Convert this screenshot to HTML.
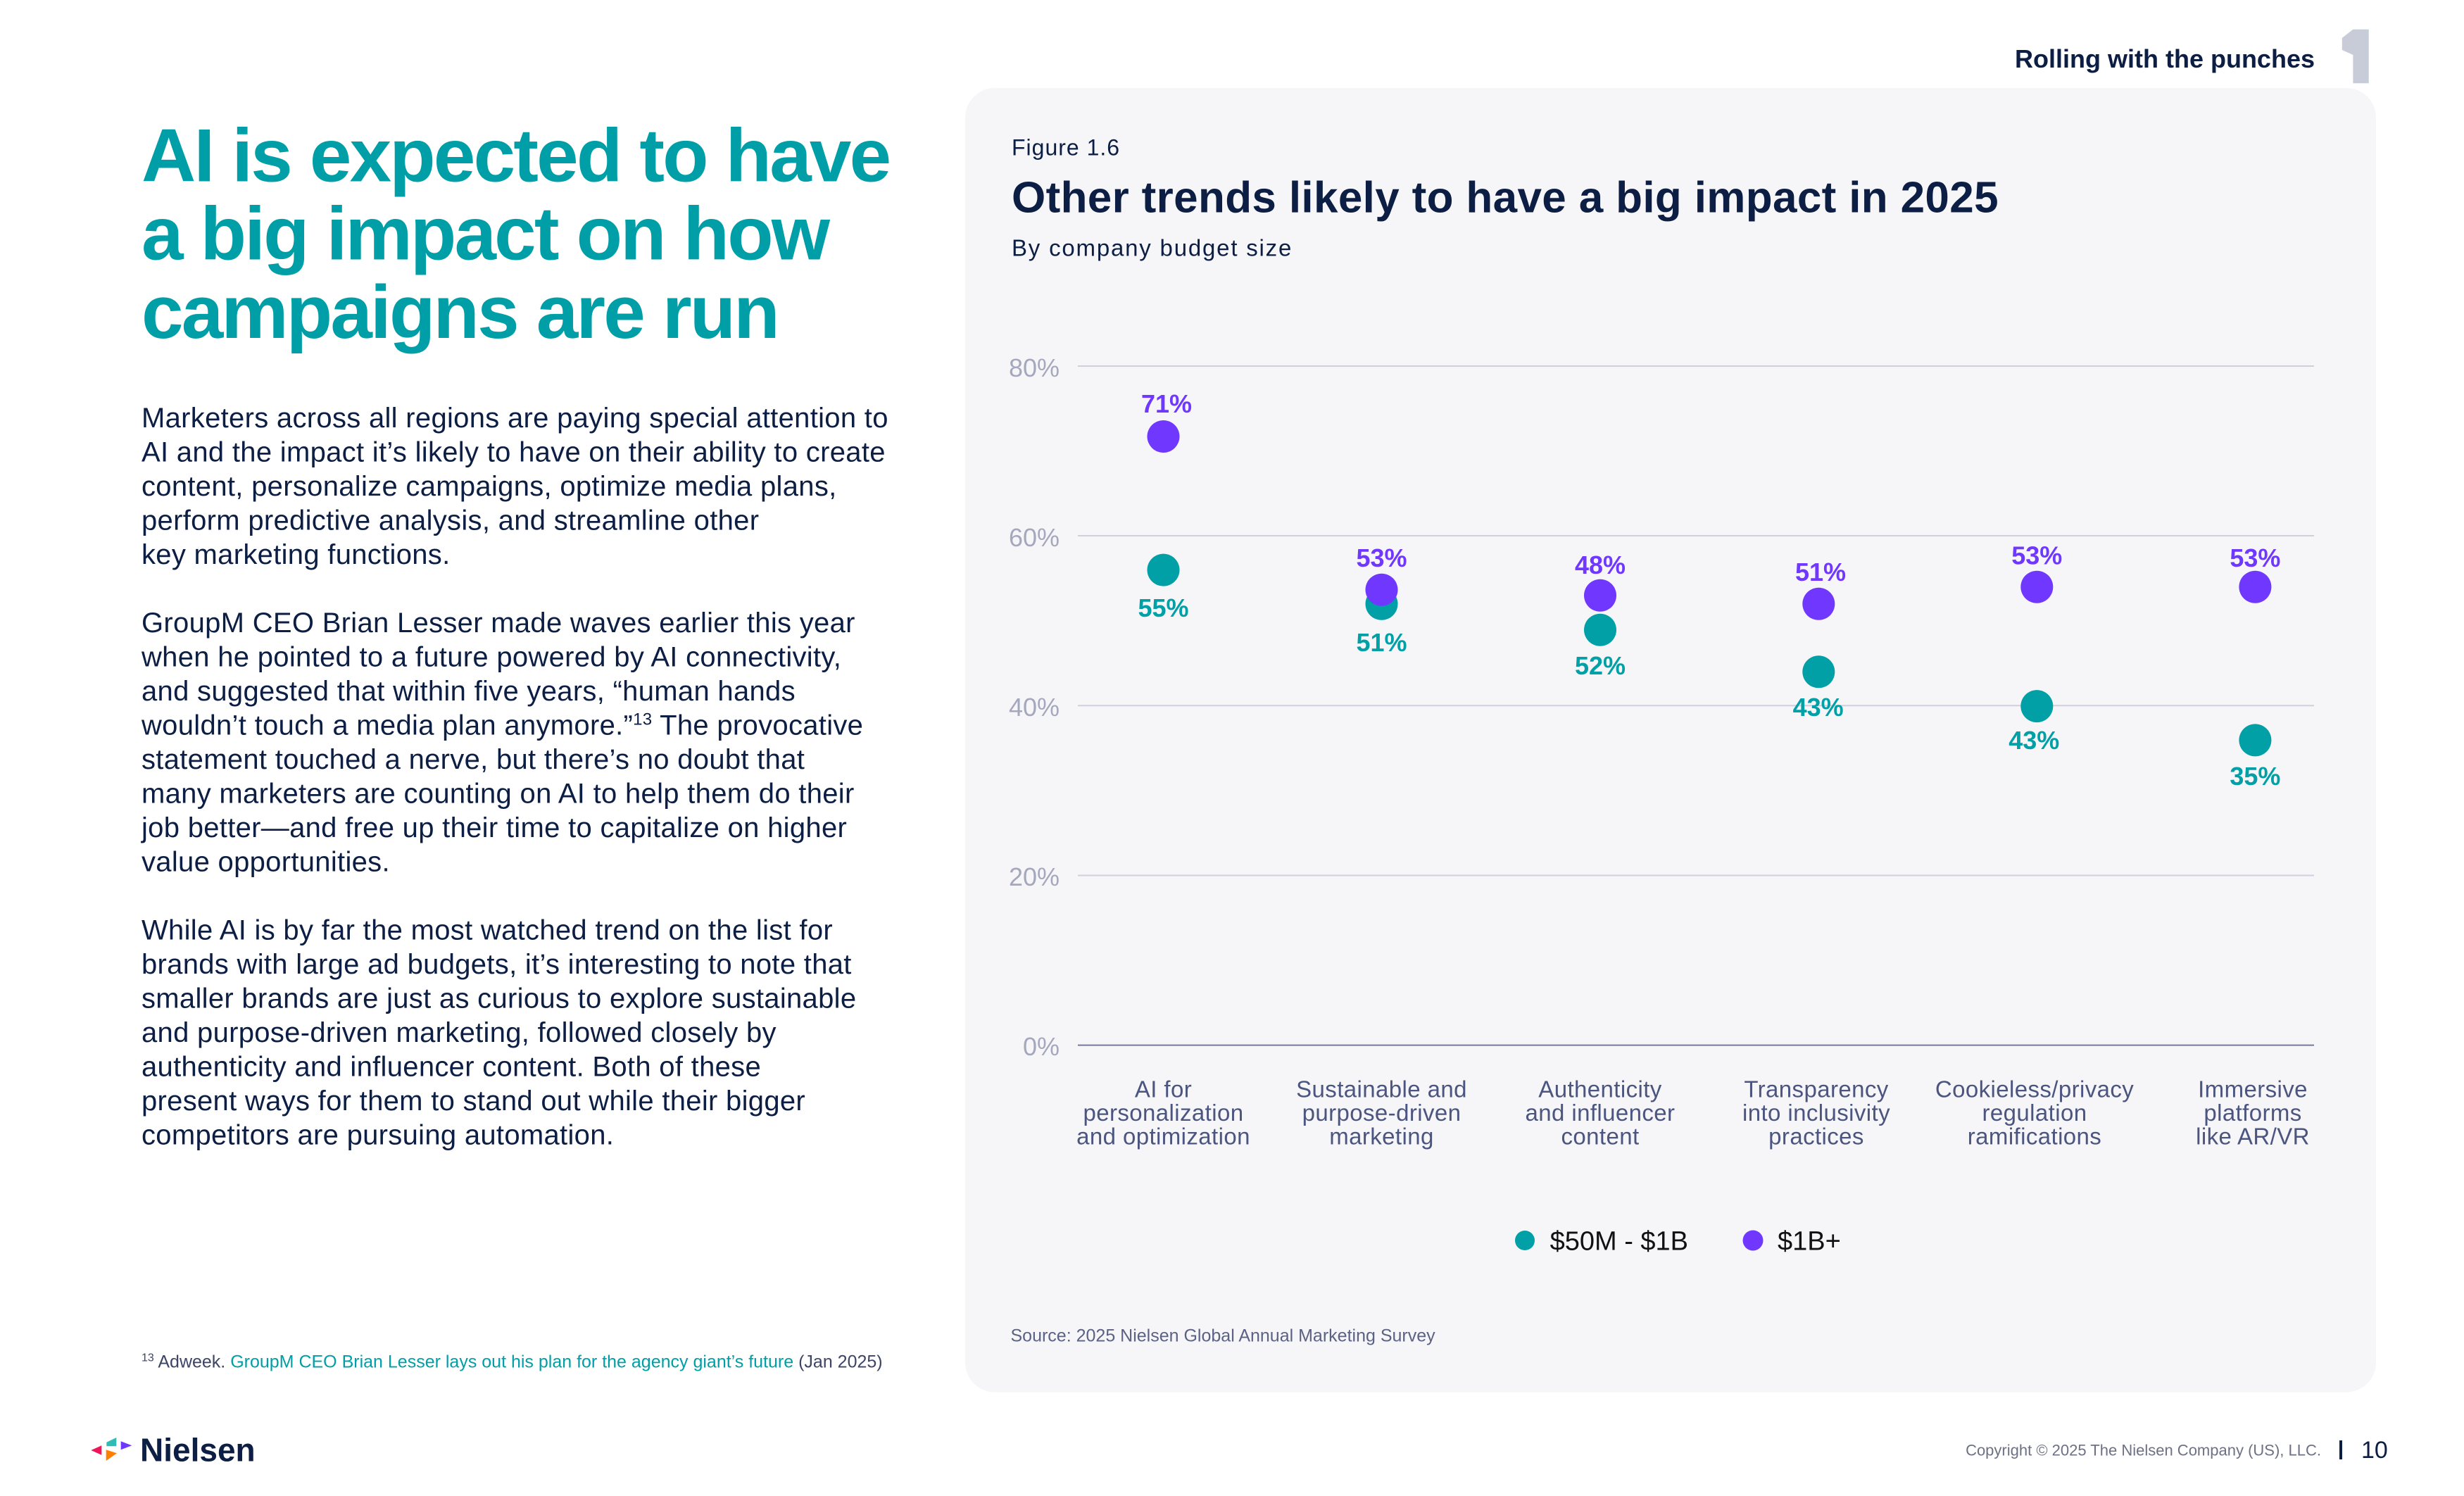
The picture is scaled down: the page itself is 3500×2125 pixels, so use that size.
<!DOCTYPE html>
<html>
<head>
<meta charset="utf-8">
<style>
  html,body{margin:0;padding:0;background:#ffffff;}
  svg{display:block;}
  text{font-family:"Liberation Sans", Arial, sans-serif;}
</style>
</head>
<body>
<svg xmlns="http://www.w3.org/2000/svg" width="3500" height="2125" viewBox="0 0 3500 2125">
  <rect x="0" y="0" width="3500" height="2125" fill="#ffffff"/>

  <!-- Header -->
  <text x="3288" y="96" font-size="36" font-weight="bold" fill="#0c1e43" text-anchor="end">Rolling with the punches</text>
  <polygon points="3342.4,41.7 3364.7,41.7 3364.7,118.3 3342.4,118.3 3342.4,78 3326.8,71 3326.8,54" fill="#c8cbd8"/>

  <!-- Heading -->
  <g font-size="107" font-weight="bold" fill="#009fa7" style="letter-spacing:-2.8px">
    <text x="201" y="257.6">AI is expected to have</text>
    <text x="201" y="368.3">a big impact on how</text>
    <text x="201" y="479.9">campaigns are run</text>
  </g>

  <!-- Body text -->
  <g font-size="40" fill="#0c1e43" style="letter-spacing:0.3px">
    <text x="201" y="607">Marketers across all regions are paying special attention to</text>
    <text x="201" y="655.5">AI and the impact it’s likely to have on their ability to create</text>
    <text x="201" y="704">content, personalize campaigns, optimize media plans,</text>
    <text x="201" y="752.5">perform predictive analysis, and streamline other</text>
    <text x="201" y="801">key marketing functions.</text>

    <text x="201" y="898">GroupM CEO Brian Lesser made waves earlier this year</text>
    <text x="201" y="946.5">when he pointed to a future powered by AI connectivity,</text>
    <text x="201" y="995">and suggested that within five years, “human hands</text>
    <text x="201" y="1043.5">wouldn’t touch a media plan anymore.”<tspan dy="-14" font-size="24">13</tspan><tspan dy="14"> The provocative</tspan></text>
    <text x="201" y="1092">statement touched a nerve, but there’s no doubt that</text>
    <text x="201" y="1140.5">many marketers are counting on AI to help them do their</text>
    <text x="201" y="1189">job better—and free up their time to capitalize on higher</text>
    <text x="201" y="1237.5">value opportunities.</text>

    <text x="201" y="1334.5">While AI is by far the most watched trend on the list for</text>
    <text x="201" y="1383">brands with large ad budgets, it’s interesting to note that</text>
    <text x="201" y="1431.5">smaller brands are just as curious to explore sustainable</text>
    <text x="201" y="1480">and purpose-driven marketing, followed closely by</text>
    <text x="201" y="1528.5">authenticity and influencer content. Both of these</text>
    <text x="201" y="1577">present ways for them to stand out while their bigger</text>
    <text x="201" y="1625.5">competitors are pursuing automation.</text>
  </g>

  <!-- Footnote -->
  <text x="201" y="1942.7" font-size="25" fill="#3d4466"><tspan dy="-9" font-size="16">13</tspan><tspan dy="9"> Adweek. </tspan><tspan fill="#009fa7">GroupM CEO Brian Lesser lays out his plan for the agency giant’s future</tspan><tspan> (Jan 2025)</tspan></text>

  <!-- Logo -->
  <polygon points="129.3,2060 144.3,2053.3 144.3,2066.7" fill="#f0145a"/>
  <polygon points="151.3,2048.7 165.3,2042 165.3,2054.3 151.3,2054.3" fill="#2ebdb5"/>
  <polygon points="171.7,2047.3 187.3,2053.3 171.7,2059.3" fill="#7038ff"/>
  <polygon points="150.7,2059.3 166,2064.3 150.7,2075" fill="#ff7f00"/>
  <text x="199" y="2075.7" font-size="46" font-weight="bold" fill="#0c1e43">Nielsen</text>

  <!-- Card -->
  <rect x="1371" y="125" width="2004" height="1852.5" rx="42" ry="42" fill="#f6f6f9"/>

  <text x="1437" y="220.7" font-size="32" fill="#0c1e43" style="letter-spacing:1px">Figure 1.6</text>
  <text x="1437" y="301.7" font-size="62" font-weight="bold" fill="#0c1e43" style="letter-spacing:0.35px">Other trends likely to have a big impact in 2025</text>
  <text x="1437" y="363.3" font-size="33" fill="#0c1e43" style="letter-spacing:1.8px">By company budget size</text>

  <!-- Gridlines -->
  <g stroke="#cfd0de" stroke-width="2">
    <line x1="1531" y1="520" x2="3287" y2="520"/>
    <line x1="1531" y1="761" x2="3287" y2="761"/>
    <line x1="1531" y1="1002.3" x2="3287" y2="1002.3"/>
    <line x1="1531" y1="1243.5" x2="3287" y2="1243.5"/>
  </g>
  <line x1="1531" y1="1484.6" x2="3287" y2="1484.6" stroke="#737a9c" stroke-width="2"/>

  <!-- Y tick labels -->
  <g font-size="36" fill="#a5a8bd" text-anchor="end">
    <text x="1505" y="535">80%</text>
    <text x="1505" y="776">60%</text>
    <text x="1505" y="1017">40%</text>
    <text x="1505" y="1258">20%</text>
    <text x="1505" y="1499">0%</text>
  </g>

  <!-- Teal dots -->
  <g fill="#00a0a6">
    <circle cx="1652.5" cy="809.6" r="23"/>
    <circle cx="1962.5" cy="857.8" r="23"/>
    <circle cx="2273" cy="894.7" r="23"/>
    <circle cx="2583.3" cy="954.3" r="23"/>
    <circle cx="2893.3" cy="1003.1" r="23"/>
    <circle cx="3203.4" cy="1051.4" r="23"/>
  </g>
  <!-- Purple dots -->
  <g fill="#7038ff">
    <circle cx="1652.5" cy="620" r="23"/>
    <circle cx="1962.5" cy="837.7" r="23"/>
    <circle cx="2273" cy="845.8" r="23"/>
    <circle cx="2583.3" cy="857.8" r="23"/>
    <circle cx="2893.3" cy="833.7" r="23"/>
    <circle cx="3203.4" cy="833.7" r="23"/>
  </g>

  <!-- Purple labels -->
  <g font-size="36" font-weight="bold" fill="#7038ff" text-anchor="middle">
    <text x="1657" y="586">71%</text>
    <text x="1962.5" y="805">53%</text>
    <text x="2273" y="815">48%</text>
    <text x="2586" y="825">51%</text>
    <text x="2893.3" y="801.6">53%</text>
    <text x="3203.4" y="805">53%</text>
  </g>
  <!-- Teal labels -->
  <g font-size="36" font-weight="bold" fill="#00a0a6" text-anchor="middle">
    <text x="1652.5" y="876">55%</text>
    <text x="1962.5" y="925">51%</text>
    <text x="2273" y="958">52%</text>
    <text x="2582.6" y="1017">43%</text>
    <text x="2889.3" y="1064">43%</text>
    <text x="3203.4" y="1115">35%</text>
  </g>

  <!-- X labels -->
  <g font-size="33" fill="#4b5580" text-anchor="middle" style="letter-spacing:0.4px">
    <text x="1652.5" y="1558.5">AI for</text>
    <text x="1652.5" y="1592">personalization</text>
    <text x="1652.5" y="1625.4">and optimization</text>

    <text x="1962.5" y="1558.5">Sustainable and</text>
    <text x="1962.5" y="1592">purpose-driven</text>
    <text x="1962.5" y="1625.4">marketing</text>

    <text x="2273" y="1558.5">Authenticity</text>
    <text x="2273" y="1592">and influencer</text>
    <text x="2273" y="1625.4">content</text>

    <text x="2580" y="1558.5">Transparency</text>
    <text x="2580" y="1592">into inclusivity</text>
    <text x="2580" y="1625.4">practices</text>

    <text x="2890" y="1558.5">Cookieless/privacy</text>
    <text x="2890" y="1592">regulation</text>
    <text x="2890" y="1625.4">ramifications</text>

    <text x="3200" y="1558.5">Immersive</text>
    <text x="3200" y="1592">platforms</text>
    <text x="3200" y="1625.4">like AR/VR</text>
  </g>

  <!-- Legend -->
  <circle cx="2166" cy="1762" r="14" fill="#00a0a6"/>
  <text x="2201.6" y="1775.5" font-size="38" fill="#111111">$50M - $1B</text>
  <circle cx="2490" cy="1762" r="14.5" fill="#7038ff"/>
  <text x="2525" y="1775.5" font-size="38" fill="#111111">$1B+</text>

  <!-- Source -->
  <text x="1435.5" y="1905.6" font-size="25" fill="#5b6283">Source: 2025 Nielsen Global Annual Marketing Survey</text>

  <!-- Footer right -->
  <text x="3297" y="2067.5" font-size="22" fill="#6d7184" text-anchor="end">Copyright © 2025 The Nielsen Company (US), LLC.</text>
  <rect x="3323" y="2046" width="4" height="27" fill="#0c1e43"/>
  <text x="3354" y="2071" font-size="34" fill="#0c1e43">10</text>
</svg>
</body>
</html>
